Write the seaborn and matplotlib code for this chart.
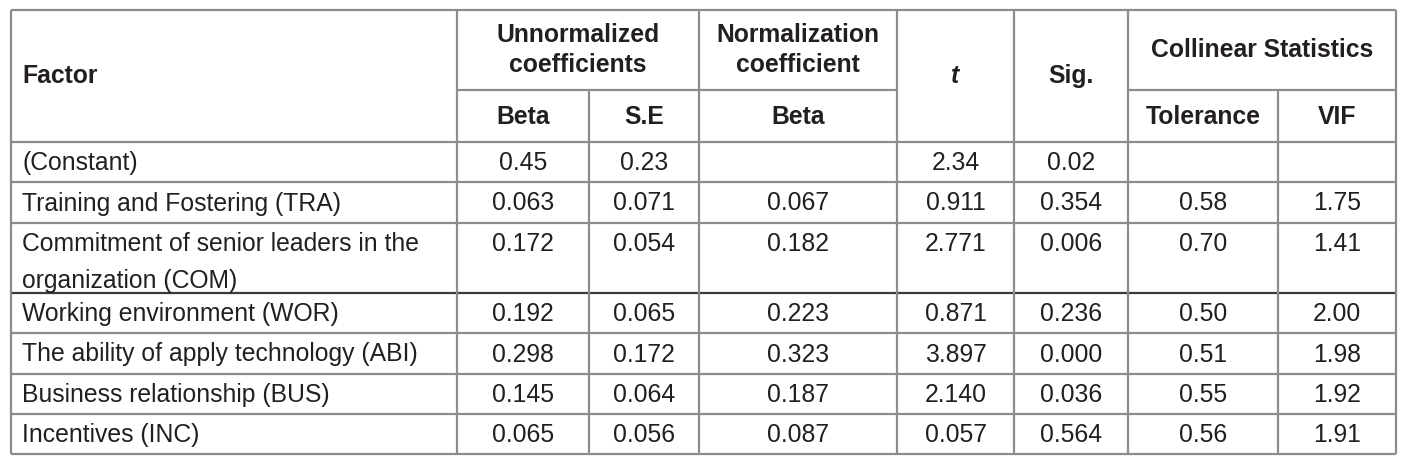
import matplotlib
matplotlib.use("Agg")
import matplotlib.pyplot as plt
import seaborn as sns

# ---- data ----
factors = ["(Constant)",
           "Training and Fostering (TRA)",
           "Commitment of senior leaders in the\norganization (COM)",
           "Working environment (WOR)",
           "The ability of apply technology (ABI)",
           "Business relationship (BUS)",
           "Incentives (INC)"]
beta_unnorm = ["0.45", "0.063", "0.172", "0.192", "0.298", "0.145", "0.065"]
se_unnorm = ["0.23", "0.071", "0.054", "0.065", "0.172", "0.064", "0.056"]
beta_norm = ["", "0.067", "0.182", "0.223", "0.323", "0.187", "0.087"]
t_vals = ["2.34", "0.911", "2.771", "0.871", "3.897", "2.140", "0.057"]
sig_vals = ["0.02", "0.354", "0.006", "0.236", "0.000", "0.036", "0.564"]
tolerance = ["", "0.58", "0.70", "0.50", "0.51", "0.55", "0.56"]
vif = ["", "1.75", "1.41", "2.00", "1.98", "1.92", "1.91"]

# ---- layout (pixels) ----
sns.set_theme(style="white")
plt.rcParams['font.family'] = ['Liberation Sans', 'DejaVu Sans']

W, H = 1416, 458
fig = plt.figure(figsize=(W / 100, H / 100), dpi=100)
ax = fig.add_axes([0, 0, 1, 1])
ax.set_xlim(0, W)
ax.set_ylim(H, 0)
ax.axis("off")

xL, xR = 11, 1396
col_x = [11, 457, 589, 699, 897, 1014, 1128, 1278, 1396]
y_top, y_mid, y_head = 10, 90, 142
row_y = [142, 182, 223, 293, 333, 374, 414, 454]

GRID = "#8c8c8c"
DARK = "#3a3a3a"
TXT = "#231f20"
LW = 1.6
FS = 17.8

# horizontal lines
ax.hlines(y_top, xL, xR, color=GRID, lw=LW)
ax.hlines(y_mid, 457, 897, color=GRID, lw=LW)
ax.hlines(y_mid, 1128, 1396, color=GRID, lw=LW)
for i, y in enumerate(row_y):
    c = DARK if y == 293 else GRID
    ax.hlines(y, xL, xR, color=c, lw=LW)

# vertical lines
for x in [11, 457, 699, 897, 1014, 1128, 1396]:
    ax.vlines(x, y_top, row_y[-1], color=GRID, lw=LW)
for x in [589, 1278]:
    ax.vlines(x, y_mid, row_y[-1], color=GRID, lw=LW)

# header
hb = dict(fontsize=FS, fontweight="bold", color=TXT, va="center")
ax.text(22, 76, "Factor", ha="left", **hb)
ax.text((457 + 699) / 2, 35, "Unnormalized", ha="center", **hb)
ax.text((457 + 699) / 2, 65, "coefficients", ha="center", **hb)
ax.text((699 + 897) / 2, 35, "Normalization", ha="center", **hb)
ax.text((699 + 897) / 2, 65, "coefficient", ha="center", **hb)
ax.text((897 + 1014) / 2, 76, "t", ha="center", style="italic", **hb)
ax.text((1014 + 1128) / 2, 76, "Sig.", ha="center", **hb)
ax.text((1128 + 1396) / 2, 50, "Collinear Statistics", ha="center", **hb)
sub = ["Beta", "S.E", "Beta", None, None, "Tolerance", "VIF"]
for j, s in enumerate(sub):
    if s:
        ax.text((col_x[j + 1] + col_x[j + 2]) / 2, 117, s, ha="center", **hb)

# body
cols = [beta_unnorm, se_unnorm, beta_norm, t_vals, sig_vals, tolerance, vif]
tb = dict(fontsize=FS, color=TXT, va="center")
for i, name in enumerate(factors):
    y0, y1 = row_y[i], row_y[i + 1]
    lines = name.split("\n")
    if len(lines) == 1:
        yc = (y0 + y1) / 2 + 1
    else:
        yc = y0 + 21
    for k, ln in enumerate(lines):
        ax.text(22, yc + k * 37, ln, ha="left", **tb)
    for j, col in enumerate(cols):
        ax.text((col_x[j + 1] + col_x[j + 2]) / 2, yc, col[i], ha="center", **tb)

fig.savefig("out.png", dpi=100, facecolor="white")
